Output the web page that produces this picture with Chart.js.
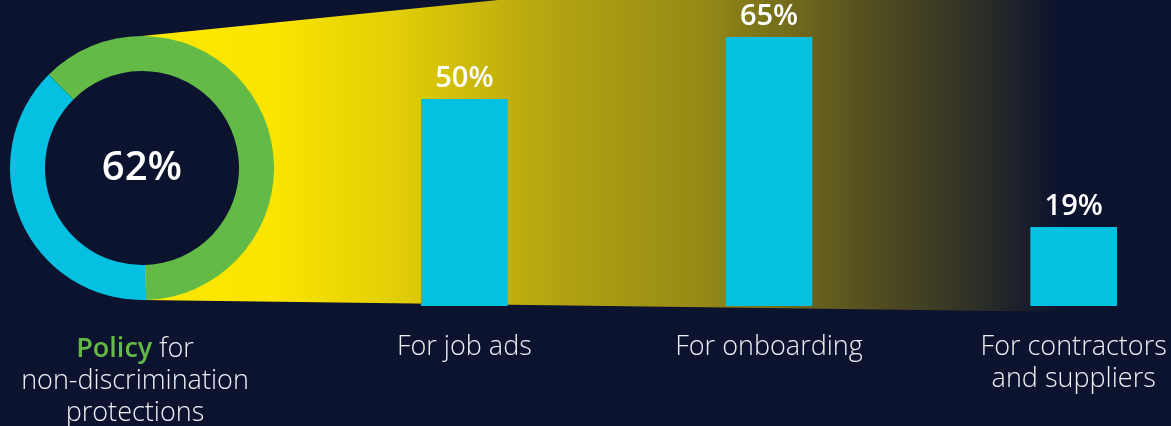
<!DOCTYPE html>
<html>
<head>
<meta charset="utf-8">
<script src="https://cdn.jsdelivr.net/npm/chart.js@4.4.1/dist/chart.umd.min.js"></script>
<style>
  html, body { margin: 0; padding: 0; background: #0c132e; width: 1171px; height: 426px; overflow: hidden; }
  #barWrap   { position: absolute; left: 0; top: 0; width: 1230px; height: 426px; }
  #donutWrap { position: absolute; left: 10px; top: 36px; width: 264px; height: 264px; }
  #policyLabel {
    position: absolute; left: 0; top: 331px; width: 270px; text-align: center;
    color: #eef0f4; font: 300 27px/32px "Open Sans", sans-serif;
  }
  #policyLabel b { color: #63ba47; font-weight: 600; }
</style>
</head>
<body>
<div id="barWrap"><canvas id="barChart"></canvas></div>
<div id="donutWrap"><canvas id="donutChart"></canvas></div>
<div id="policyLabel"><b>Policy</b> for<br>non-discrimination<br>protections</div>

<script>
// --- data ---
const policyLabels = ["Policy", "No policy"];
const policyShare  = [62, 38];
const categories   = [["For job ads"], ["For onboarding"], ["For contractors", "and suppliers"]];
const values       = [50, 65, 19];

const NAVY  = "#0c132e";
const CYAN  = "#05c0e1";
const GREEN = "#63ba47";
const TEXT  = "#eef0f4";
const FONT  = "'Open Sans', sans-serif";

// yellow beam behind the bars, fading into the background
const beamPlugin = {
    id: "beam",
    beforeDatasetsDraw(chart) {
        const ctx = chart.ctx;
        const g = ctx.createLinearGradient(140, 0, 1060, 0);
        g.addColorStop(0.00, "#fde800");
        g.addColorStop(0.14, "#fbe500");
        g.addColorStop(0.28, "#e2ce06");
        g.addColorStop(0.45, "#b3a311");
        g.addColorStop(0.61, "#958a16");
        g.addColorStop(0.78, "#57531f");
        g.addColorStop(0.89, "#353526");
        g.addColorStop(1.00, NAVY);
        ctx.save();
        ctx.fillStyle = g;
        ctx.beginPath();
        ctx.moveTo(142, 36);
        ctx.lineTo(1230, -74);
        ctx.lineTo(1230, 314);
        ctx.lineTo(142, 300);
        ctx.closePath();
        ctx.fill();
        ctx.restore();
    }
};

const valueLabelPlugin = {
    id: "valueLabels",
    afterDatasetsDraw(chart) {
        const ctx = chart.ctx;
        const meta = chart.getDatasetMeta(0);
        ctx.save();
        ctx.fillStyle = "#ffffff";
        ctx.font = "600 29px " + FONT;
        ctx.textAlign = "center";
        ctx.textBaseline = "alphabetic";
        meta.data.forEach((bar, i) => {
            ctx.fillText(values[i] + "%", bar.x, bar.y - 12);
        });
        ctx.restore();
    }
};

new Chart(document.getElementById("barChart"), {
    type: "bar",
    data: {
        labels: categories,
        datasets: [{
            data: values,
            backgroundColor: CYAN,
            borderWidth: 0,
            barThickness: 86
        }]
    },
    options: {
        responsive: true,
        maintainAspectRatio: false,
        animation: false,
        layout: { padding: { left: 312, right: 4, top: 0, bottom: 0 } },
        plugins: { legend: { display: false }, tooltip: { enabled: false } },
        scales: {
            x: {
                grid: { display: false, drawTicks: false },
                border: { display: false },
                ticks: {
                    color: TEXT,
                    padding: 25,
                    maxRotation: 0,
                    autoSkip: false,
                    font: { family: "'Open Sans'", size: 27, weight: "300", lineHeight: 1.185 }
                },
                afterFit(scale) { scale.height = 120; }
            },
            y: { display: false, min: 0, max: 74 }
        }
    },
    plugins: [beamPlugin, valueLabelPlugin]
});

// donut: hollow centre painted navy so the beam does not show through
const donutCentrePlugin = {
    id: "donutCentre",
    beforeDatasetsDraw(chart) {
        const arc = chart.getDatasetMeta(0).data[0];
        const ctx = chart.ctx;
        ctx.save();
        ctx.fillStyle = NAVY;
        ctx.beginPath();
        ctx.arc(arc.x, arc.y, arc.innerRadius + 1, 0, Math.PI * 2);
        ctx.fill();
        ctx.restore();
    },
    afterDraw(chart) {
        const arc = chart.getDatasetMeta(0).data[0];
        const ctx = chart.ctx;
        ctx.save();
        ctx.fillStyle = "#ffffff";
        ctx.font = "600 40px " + FONT;
        ctx.textAlign = "center";
        ctx.textBaseline = "middle";
        ctx.fillText(policyShare[0] + "%", arc.x, arc.y + 1);
        ctx.restore();
    }
};

new Chart(document.getElementById("donutChart"), {
    type: "doughnut",
    data: {
        labels: policyLabels,
        datasets: [{
            data: policyShare,
            backgroundColor: [GREEN, CYAN],
            borderWidth: 0
        }]
    },
    options: {
        responsive: true,
        maintainAspectRatio: false,
        animation: false,
        cutout: "73.5%",
        rotation: -45,
        layout: { padding: 0 },
        plugins: { legend: { display: false }, tooltip: { enabled: false } }
    },
    plugins: [donutCentrePlugin]
});
</script>
</body>
</html>
